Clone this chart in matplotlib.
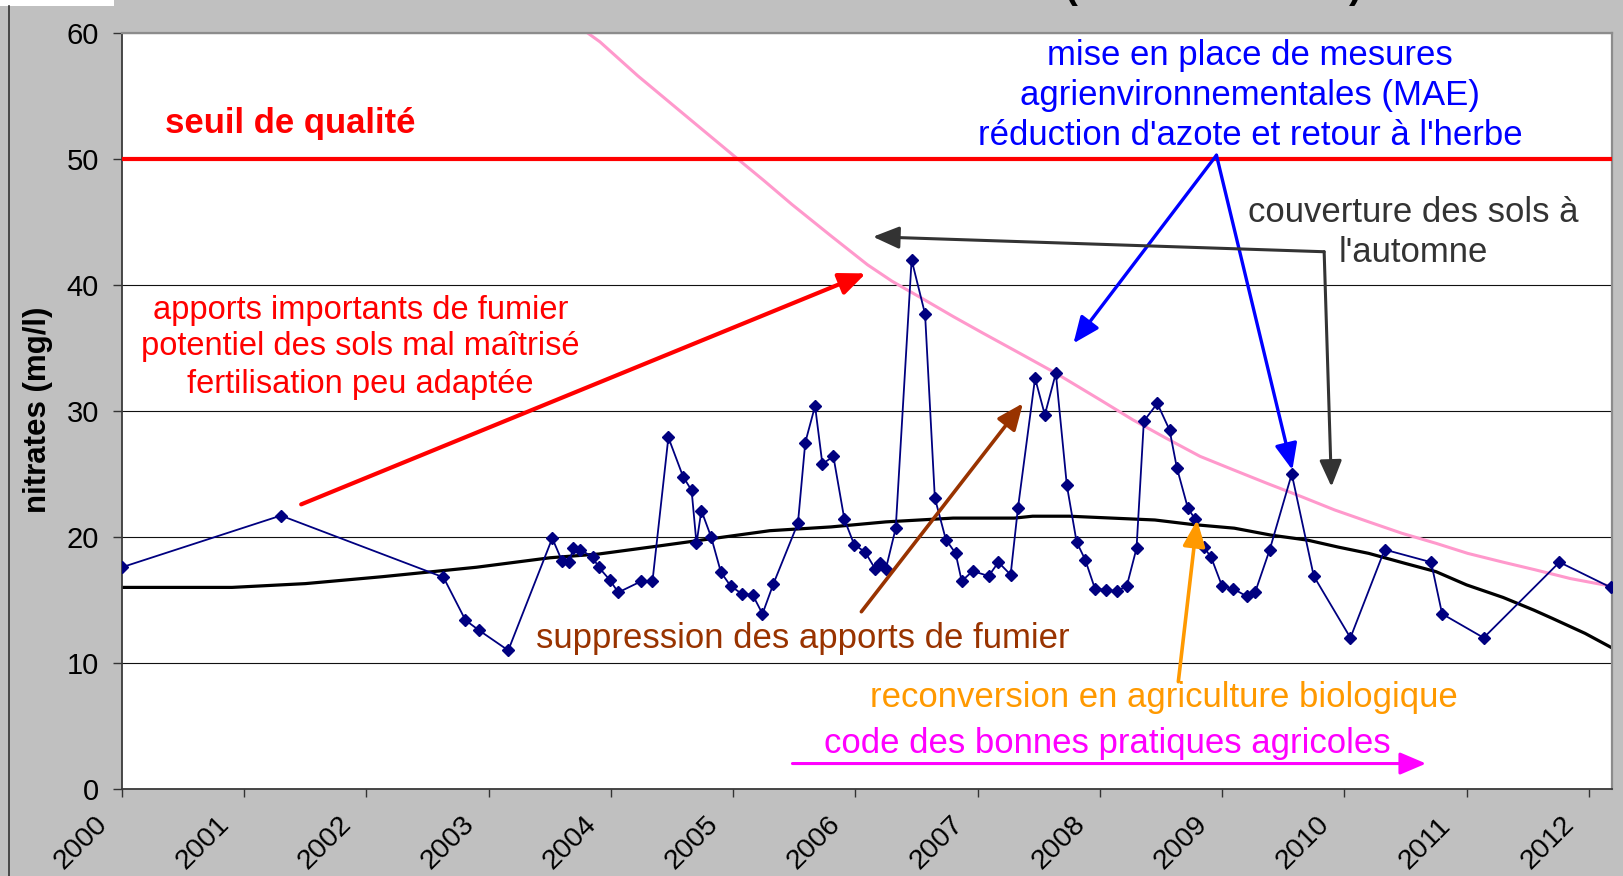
import matplotlib
matplotlib.use("Agg")
import matplotlib.pyplot as plt
import matplotlib.transforms as mtransforms
from matplotlib.patches import Rectangle
from matplotlib.lines import Line2D

plt.rcParams['font.family'] = ['Liberation Sans', 'DejaVu Sans']

# ---------------- data ----------------
sample_dates = [2000.00, 2001.30, 2002.63, 2002.81, 2002.92, 2003.16, 2003.52, 2003.60, 2003.66, 2003.69,
                2003.75, 2003.85, 2003.90, 2003.99, 2004.06, 2004.25, 2004.34, 2004.47, 2004.59, 2004.66,
                2004.70, 2004.74, 2004.82, 2004.90, 2004.98, 2005.07, 2005.16, 2005.24, 2005.33, 2005.53,
                2005.59, 2005.67, 2005.73, 2005.82, 2005.91, 2005.99, 2006.08, 2006.16, 2006.20, 2006.25,
                2006.33, 2006.46, 2006.57, 2006.65, 2006.74, 2006.82, 2006.87, 2006.96, 2007.09, 2007.17,
                2007.27, 2007.33, 2007.47, 2007.55, 2007.64, 2007.73, 2007.81, 2007.88, 2007.96, 2008.05,
                2008.14, 2008.22, 2008.30, 2008.36, 2008.47, 2008.57, 2008.63, 2008.72, 2008.78, 2008.85,
                2008.91, 2009.00, 2009.09, 2009.20, 2009.27, 2009.39, 2009.57, 2009.75, 2010.05, 2010.33,
                2010.71, 2010.80, 2011.14, 2011.76, 2012.18]
nitrates = [17.6, 21.7, 16.8, 13.4, 12.6, 11.0, 19.9, 18.1, 18.0, 19.1,
            19.0, 18.4, 17.6, 16.6, 15.6, 16.5, 16.5, 27.9, 24.8, 23.7,
            19.5, 22.1, 20.0, 17.2, 16.1, 15.5, 15.4, 13.9, 16.3, 21.1,
            27.5, 30.4, 25.8, 26.4, 21.4, 19.4, 18.8, 17.5, 17.9, 17.5,
            20.7, 42.0, 37.7, 23.1, 19.8, 18.7, 16.5, 17.3, 16.9, 18.0,
            17.0, 22.3, 32.6, 29.7, 33.0, 24.1, 19.6, 18.2, 15.9, 15.8,
            15.7, 16.1, 19.1, 29.2, 30.6, 28.5, 25.5, 22.3, 21.4, 19.2,
            18.4, 16.1, 15.9, 15.3, 15.6, 19.0, 25.0, 16.9, 12.0, 19.0,
            18.0, 13.9, 12.0, 18.0, 16.0]

# black moving-average trend
trend_dates = [2000.0, 2000.9, 2001.3, 2001.5, 2002.13, 2002.9, 2003.5, 2003.9, 2004.4, 2004.85,
               2005.3, 2005.8, 2006.25, 2006.8, 2007.3, 2007.45, 2007.75, 2008.1, 2008.45, 2008.75,
               2009.1, 2009.4, 2009.7, 2009.95, 2010.2, 2010.5, 2010.75, 2011.0, 2011.3, 2011.55,
               2011.7, 2011.97, 2012.19]
trend_values = [16.0, 16.0, 16.2, 16.3, 16.85, 17.6, 18.35, 18.65, 19.3, 19.9,
                20.5, 20.8, 21.2, 21.5, 21.5, 21.65, 21.65, 21.5, 21.35, 21.0,
                20.7, 20.15, 19.75, 19.2, 18.7, 17.9, 17.25, 16.2, 15.2, 14.2,
                13.55, 12.35, 11.2]

# pink decreasing trend
pink_dates = [2003.81, 2003.91, 2004.22, 2004.69, 2005.0, 2005.25, 2005.48, 2005.8, 2006.1, 2006.3,
              2006.57, 2006.8, 2007.04, 2007.36, 2007.64, 2008.0, 2008.27, 2008.55, 2008.82, 2009.1,
              2009.37, 2009.65, 2009.92, 2010.2, 2010.47, 2010.75, 2011.01, 2011.3, 2011.56, 2011.85,
              2012.18]
pink_values = [60.0, 59.3, 56.6, 52.8, 50.3, 48.3, 46.4, 43.9, 41.6, 40.3,
               38.8, 37.5, 36.2, 34.5, 33.0, 30.9, 29.3, 27.8, 26.4, 25.3,
               24.25, 23.2, 22.15, 21.2, 20.3, 19.5, 18.7, 18.0, 17.4, 16.7,
               16.1]

threshold = 50
year_ticks = [2000, 2001, 2002, 2003, 2004, 2005, 2006, 2007, 2008, 2009, 2010, 2011, 2012]
year_labels = [str(y) for y in year_ticks]
y_ticks = [0, 10, 20, 30, 40, 50, 60]

# ---------------- figure ----------------
W, H = 1624, 876
fig = plt.figure(figsize=(W / 100, H / 100), dpi=100, facecolor='#C0C0C0')
ax = fig.add_axes([122 / W, 1 - 789 / H, (1612 - 122) / W, (789 - 33) / H])
ax.set_facecolor('white')

# decorations of the outer frame
fig.patches.append(Rectangle((0, 1 - 6 / H), 114 / W, 6 / H, transform=fig.transFigure,
                             facecolor='white', edgecolor='none', zorder=0))
fig.lines.append(Line2D([9.5 / W, 9.5 / W], [0, 1 - 6 / H], transform=fig.transFigure,
                        color='#333333', lw=1.2))
# bottom of the (cropped) title parentheses
fig.text(1071 / W, 1 + 1.5 / H, "(", fontsize=28, fontweight='bold', ha='center', va='baseline')
fig.text(1355 / W, 1 + 1.5 / H, ")", fontsize=28, fontweight='bold', ha='center', va='baseline')

ax.set_xlim(2000, 2012.19)
ax.set_ylim(0, 60)

ax.set_axisbelow(True)
ax.yaxis.grid(True, color='#111111', lw=0.8)
ax.xaxis.grid(False)

ax.plot(trend_dates, trend_values, color='black', lw=2.3, zorder=2, solid_capstyle='butt')
ax.plot(pink_dates, pink_values, color='#FF99CC', lw=2.2, zorder=2)
ax.plot(sample_dates, nitrates, color='#000080', lw=1.3, marker='D', ms=6.5,
        mec='#000080', mfc='#000080', zorder=3)
ax.axhline(threshold, color='#FF0000', lw=3.0, zorder=4)

# axes styling
ax.set_yticks(y_ticks)
ax.set_xticks(year_ticks)
ax.set_xticklabels([])
ax.tick_params(axis='y', direction='out', length=6.5, width=1.0, color='#333333',
               labelsize=21, pad=10.0)
ax.tick_params(axis='x', direction='out', length=5.8, width=1.0, color='#333333')
for s in ['left', 'bottom']:
    ax.spines[s].set_color('#3a3a3a')
    ax.spines[s].set_linewidth(1.3)
for s in ['top', 'right']:
    ax.spines[s].set_color('#8c8c8c')
    ax.spines[s].set_linewidth(1.6)

offset = mtransforms.ScaledTranslation(-41 / 100, -54 / 100, fig.dpi_scale_trans)
xtrans = ax.get_xaxis_transform() + offset
for yr, lab in zip(year_ticks, year_labels):
    ax.text(yr, 0, lab, transform=xtrans, rotation=45, ha='center', va='center',
            fontsize=20.5, clip_on=False)

fig.text(38.5 / W, 1 - 410 / H, "nitrates (mg/l)", rotation=90, ha='center', va='center',
         fontsize=22.5, fontweight='bold')

# ---------------- annotations ----------------
def text_lines(x, ys, lines, color, size=25, **kw):
    for y, s in zip(ys, lines):
        ax.text(x, y, s, color=color, ha='center', va='baseline', fontsize=size, zorder=6, **kw)


def arrow(x0, y0, x1, y1, color, lw, hl=0.8, hw=0.34):
    ax.annotate('', xy=(x1, y1), xytext=(x0, y0), annotation_clip=False,
                arrowprops=dict(arrowstyle='-|>,head_length=%g,head_width=%g' % (hl, hw),
                                color=color, lw=lw, shrinkA=0, shrinkB=0, mutation_scale=20),
                zorder=7)


ax.text(2000.35, 52.04, "seuil de qualité", color='#FF0000', fontsize=25, fontweight='bold',
        ha='left', va='baseline', zorder=6)

text_lines(2001.95, [37.28, 34.44, 31.40],
           ["apports importants de fumier", "potentiel des sols mal maîtrisé",
            "fertilisation peu adaptée"], '#FF0000', size=23.5)
arrow(2001.466, 22.59, 2006.085, 40.92, '#FF0000', 3.0)

text_lines(2009.23, [57.46, 54.29, 51.11],
           ["mise en place de mesures", "agrienvironnementales (MAE)",
            "réduction d'azote et retour à l'herbe"], '#0000FF')
arrow(2008.954, 50.3, 2007.784, 35.37, '#0000FF', 2.4)
arrow(2008.954, 50.3, 2009.575, 25.32, '#0000FF', 2.4)

text_lines(2010.565, [45.02, 41.85], ["couverture des sols à", "l'automne"], '#333333')
arrow(2009.835, 42.64, 2006.144, 43.83, '#333333', 2.2)
arrow(2009.835, 42.64, 2009.895, 23.99, '#333333', 2.2)

text_lines(2005.573, [11.17], ["suppression des apports de fumier"], '#993300')
arrow(2006.049, 14.07, 2007.371, 30.61, '#993300', 2.6)

text_lines(2008.521, [6.48], ["reconversion en agriculture biologique"], '#FF9900')
arrow(2008.642, 8.52, 2008.796, 21.35, '#FF9900', 2.6)

text_lines(2008.065, [2.83], ["code des bonnes pratiques agricoles"], '#FF00FF')
arrow(2005.485, 2.02, 2010.669, 2.02, '#FF00FF', 2.2)

fig.savefig('out.png', dpi=100, facecolor=fig.get_facecolor())
